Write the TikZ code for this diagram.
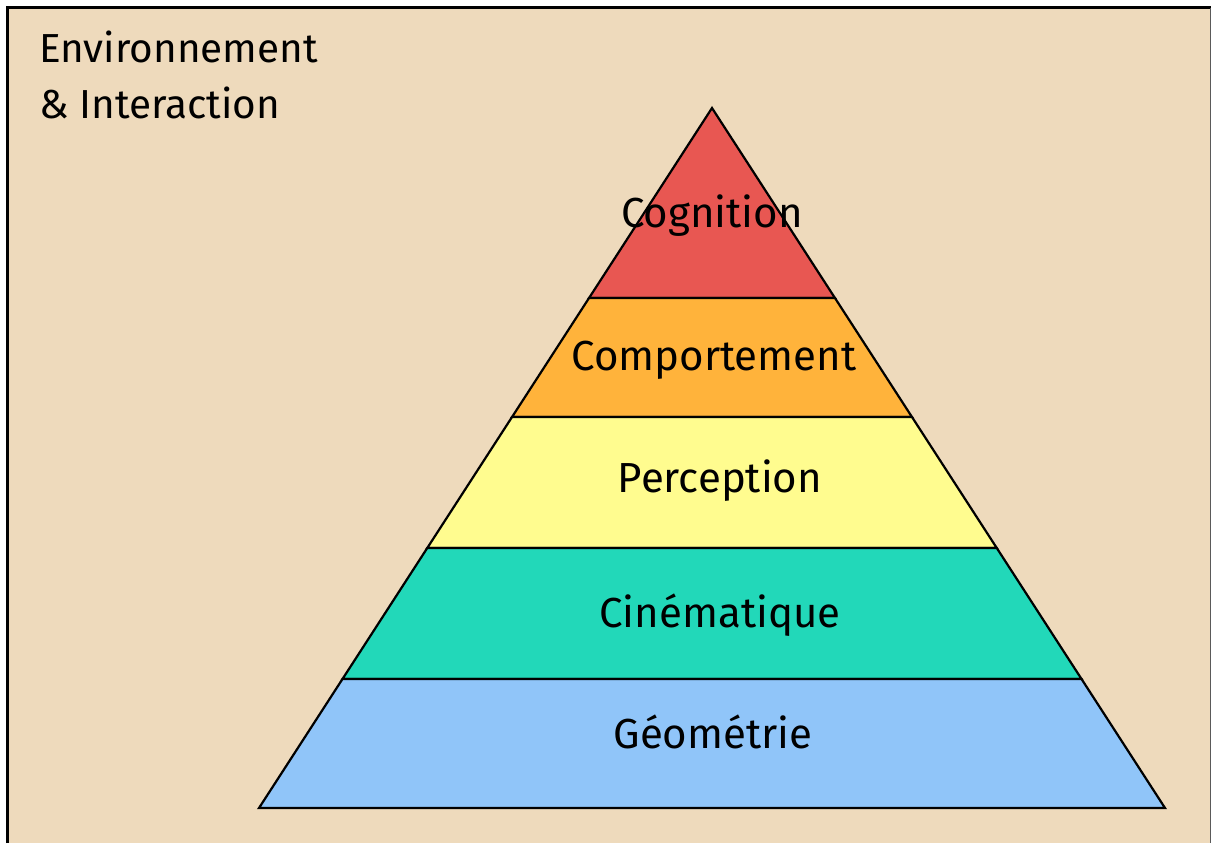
\documentclass[tikz,border=0pt]{standalone}
\usepackage{fontspec}
\setmainfont{Fira Sans}
\usetikzlibrary{calc}
\definecolor{bgbeige}{HTML}{EEDABC}
\definecolor{lvred}{HTML}{E85752}
\definecolor{lvorange}{HTML}{FFB33B}
\definecolor{lvyellow}{HTML}{FFFC8F}
\definecolor{lvteal}{HTML}{22D8B9}
\definecolor{lvblue}{HTML}{90C5F9}
\definecolor{rimgray}{HTML}{5A5A5A}
\begin{document}
\begin{tikzpicture}[x=1pt,y=-1pt,
  layer/.style={draw=black,line width=2.2pt,line join=miter},
  label/.style={anchor=base,inner sep=0pt,font=\fontsize{42}{50}\selectfont,text=black},
  corner/.style={anchor=base west,inner sep=0pt,font=\fontsize{40.5}{48}\selectfont,text=black}]
  \useasboundingbox (0,0) rectangle (1217,843);
  \fill[white] (0,0) rectangle (1217,843);
  % framed backdrop
  \fill[bgbeige] (7,8) rectangle (1211,843);
  \draw[black,line width=3pt] (7,843) -- (7,8) -- (1211,8);
  \draw[rimgray,line width=1.5pt] (1210.5,8) -- (1210.5,843);

  % pyramid outline points
  \coordinate (apex) at (712,108);
  \coordinate (bl) at (259,808);
  \coordinate (br) at (1165,808);
  \coordinate (l1) at ($(apex)!0.2714!(bl)$);
  \coordinate (r1) at ($(apex)!0.2714!(br)$);
  \coordinate (l2) at ($(apex)!0.4414!(bl)$);
  \coordinate (r2) at ($(apex)!0.4414!(br)$);
  \coordinate (l3) at ($(apex)!0.6286!(bl)$);
  \coordinate (r3) at ($(apex)!0.6286!(br)$);
  \coordinate (l4) at ($(apex)!0.8157!(bl)$);
  \coordinate (r4) at ($(apex)!0.8157!(br)$);

  % layers, top to bottom
  \draw[layer,fill=lvred] (apex) -- (r1) -- (l1) -- cycle;
  \draw[layer,fill=lvorange] (l1) -- (r1) -- (r2) -- (l2) -- cycle;
  \draw[layer,fill=lvyellow] (l2) -- (r2) -- (r3) -- (l3) -- cycle;
  \draw[layer,fill=lvteal] (l3) -- (r3) -- (r4) -- (l4) -- cycle;
  \draw[layer,fill=lvblue] (l4) -- (r4) -- (br) -- (bl) -- cycle;

  % layer names
  \node[label] (cog) at (712,227) {Cognition};
  \node[label] (comp) at (714,370) {Comportement};
  \node[label] (perc) at (720,492) {Perception};
  \node[label] (cine) at (720,627) {Cinématique};
  \node[label] (geom) at (713,748) {Géométrie};

  % corner caption
  \node[corner] (env) at (39,63) {Environnement};
  \node[corner] (inter) at (39,118) {\& Interaction};
\end{tikzpicture}
\end{document}
